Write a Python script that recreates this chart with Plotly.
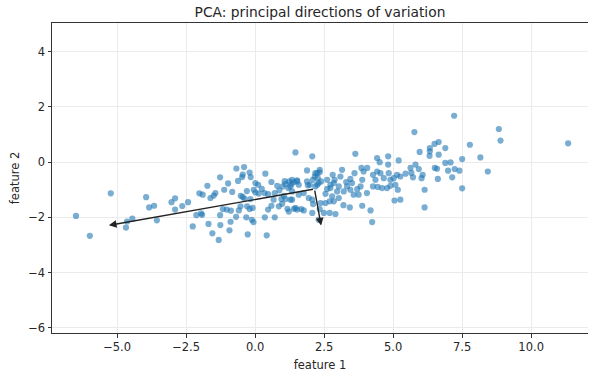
import plotly.graph_objects as go

# ---- data ----
feature1 = [
    -6.49, -5.99, -5.23, -4.64, -4.45, -4.68, -3.95, -3.84, -3.66, -3.56,
    -3.03, -2.90, -2.90, -2.64, -2.43, -2.02, -1.90, -1.73, -1.62, -1.50,
    -2.13, -1.96, -1.92, -2.26, -1.69, -1.55,
    -1.44, -1.27, -0.98, -1.12, -0.83, -0.68, -0.40, -0.45, -0.62, -0.20,
    -0.16, 0.37, 0.59, 0.11, 0.01, 0.24, 0.34, 0.47, 0.71, 0.88,
    1.00, 1.10, 1.23, 1.32, 1.07, 1.20, 1.40, 1.46, -0.52, -0.38,
    -0.29, -0.20, -0.53, -0.59, -0.88, -1.03, -1.17, -1.27, -0.89, -0.69,
    -0.32, -0.12, -0.06, 0.35, 0.71, 0.47, 0.59, 0.86, 0.98, 1.17,
    1.41, 1.10, -1.26, -1.32, -0.93, -0.27, 0.42,
    0.01, -0.05, -0.17, -0.09, 0.67, 1.28, 1.52, 0.95, 1.04, 1.22,
    1.34, 1.52, 1.67, 1.76, 2.07, 2.25, 2.27, 1.98, 2.10, 2.34,
    2.49, 2.70, 2.55,
    2.07, 3.63, 4.42, 4.82, 5.20, 4.51, 4.82, 1.88, 2.34, 2.25,
    2.16, 2.09, 1.34, 1.52, 1.58, 1.88, 1.91, 2.30, 1.34, 1.76,
    1.58, 2.61, 2.73, 2.81, 2.88, 3.09, 3.15, 2.97, 3.03, 2.85,
    2.79, 3.21, 3.33, 3.45, 3.51, 3.45, 3.57, 3.75, 3.82, 3.88,
    3.93, 4.06, 3.85, 4.27, 4.42, 4.54, 4.66, 4.84, 4.90, 5.02,
    5.14, 5.26, 4.36, 4.27, 4.44, 4.60, 4.78, 4.90, 5.08, 5.05,
    5.26, 3.43, 3.88, 4.18, 4.24, 2.91, 2.30, 1.94, 2.07, 2.37,
    2.34, 2.85, 2.73, 2.61, 3.03, 2.70,
    7.21, 5.77, 7.78, 6.33, 6.33, 6.50, 6.65, 6.89, 5.96, 6.32,
    6.65, 5.81, 5.63, 5.66, 5.45, 5.72, 5.93, 6.03, 6.07, 6.14,
    6.51, 6.59, 6.89, 7.08, 6.99, 7.23, 7.40, 7.14, 7.50, 6.62,
    7.50, 8.16, 8.43, 8.83, 8.89, 5.17, 6.14, 11.34,
    2.18, 2.39, 1.46, 1.28, 2.18, 0.13, -0.45, -0.47, 3.30, 3.70,
    4.05, 3.60, 2.55, 0.80, -0.30, 3.20,
]
feature2 = [
    -1.95, -2.67, -1.13, -2.15, -2.05, -2.37, -1.27, -1.64, -1.58, -2.11,
    -1.45, -1.31, -1.72, -1.59, -1.45, -1.13, -1.18, -0.86, -1.30, -1.21,
    -1.92, -1.86, -1.91, -2.33, -2.24, -2.58,
    -1.12, -0.55, -0.77, -1.00, -1.08, -0.23, -0.18, -0.45, -0.68, -0.38,
    -0.54, -0.42, -0.72, -0.82, -1.10, -0.97, -1.12, -1.16, -1.12, -1.02,
    -0.88, -0.79, -0.70, -0.79, -0.69, -0.94, -0.72, 0.35, -1.22, -1.33,
    -1.60, -1.70, -1.60, -1.75, -1.76, -1.72, -1.70, -1.92, -2.16, -1.98,
    -2.00, -2.09, -2.17, -2.00, -2.00, -1.72, -1.58, -1.60, -1.51, -1.69,
    -1.69, -1.34, -2.28, -2.82, -2.47, -2.62, -2.65,
    -0.76, -1.00, -1.34, -1.66, -1.36, -0.88, -0.70, -1.34, -1.22, -1.79,
    -1.36, -1.72, -1.70, -1.75, -1.84, -0.82, -0.58, -0.82, -1.52, -1.70,
    -1.84, -1.84, -1.48,
    0.21, 0.30, 0.15, 0.21, 0.06, 0.00, -0.09, -0.30, -0.28, -0.40,
    -0.52, -0.64, -0.64, -0.66, -0.82, -0.70, -0.84, -0.76, -1.06, -1.12,
    -1.18, -0.97, -0.82, -0.46, -0.64, -0.52, -0.28, -1.06, -1.30, -1.42,
    -1.24, -1.06, -0.88, -1.00, -0.76, -0.61, -1.18, -1.18, -0.88, -0.64,
    -0.34, -0.21, -0.21, -0.46, -0.34, -0.40, -0.58, -0.40, -0.64, -0.58,
    -0.46, -0.52, -0.64, -0.88, -0.90, -0.94, -0.94, -0.86, -0.82, -1.39,
    -1.36, -1.64, -1.58, -1.75, -2.17, -1.88, -2.09, -1.30, -1.36, -1.48,
    -0.37, -0.76, -0.94, -0.64, -0.88, -1.42,
    1.68, 1.09, 0.63, 0.51, 0.39, 0.66, 0.73, 0.51, 0.37, 0.23,
    0.27, -0.09, -0.21, -0.39, -0.42, -0.55, -0.25, -0.58, -0.46, -1.00,
    -0.21, -0.24, -0.03, -0.01, -0.31, -0.25, -0.31, -0.55, 0.11, -0.61,
    -0.95, 0.17, -0.34, 1.20, 0.78, -1.00, -1.64, 0.68,
    -0.88, -0.70, -1.66, -1.36, -0.40, -1.14, -1.26, -0.54, -0.72, -0.98,
    -1.12, -0.40, -1.15, -0.86, -1.05, -1.56,
]

mean_point = [2.15, -0.975]
component_1 = [-7.45, -1.315]
component_2 = [0.24, -1.325]

x_ticks = [-5.0, -2.5, 0.0, 2.5, 5.0, 7.5, 10.0]
y_ticks = [-6, -4, -2, 0, 2, 4]

FONT = "DejaVu Sans"
TXT = "#262626"

fig = go.Figure()
fig.add_trace(go.Scatter(
    x=feature1, y=feature2, mode="markers",
    marker=dict(size=6.2, color="rgba(31,119,180,0.6)", line=dict(width=0)),
    showlegend=False, hoverinfo="skip",
))

for comp in (component_1, component_2):
    fig.add_annotation(
        x=mean_point[0] + comp[0], y=mean_point[1] + comp[1],
        ax=mean_point[0], ay=mean_point[1],
        xref="x", yref="y", axref="x", ayref="y",
        text="", showarrow=True, arrowhead=2, arrowsize=1.1,
        arrowwidth=1.4, arrowcolor="#222222", standoff=0,
    )

axis_common = dict(
    showline=True, linecolor="#333333", linewidth=1,
    ticks="outside", ticklen=3.5, tickwidth=0.8, tickcolor="#333333",
    showgrid=True, gridcolor="#ebebeb", gridwidth=0.8,
    zeroline=False, tickfont=dict(family=FONT, size=11.5, color=TXT),
)

fig.update_layout(
    width=590, height=372,
    margin=dict(l=52, r=2, t=23, b=39),
    paper_bgcolor="white", plot_bgcolor="white",
    font=dict(family=FONT, size=11.5, color=TXT),
    title=dict(text="PCA: principal directions of variation",
               x=0.5, xref="paper", xanchor="center",
               y=1 - 12 / 372, yref="container", yanchor="middle",
               font=dict(family=FONT, size=13.8, color=TXT)),
    xaxis=dict(range=[-7.36, 12.06], tickvals=x_ticks,
               ticktext=[f"{v:.1f}".replace("-", "\u2212") for v in x_ticks],
               mirror=True,
               title=dict(text="feature 1", standoff=9,
                          font=dict(family=FONT, size=11.5, color=TXT)),
               **axis_common),
    yaxis=dict(range=[-6.19, 5.04], tickvals=y_ticks,
               ticktext=[f"{v}".replace("-", "\u2212") for v in y_ticks],
               title=dict(text="feature 2", standoff=6,
                          font=dict(family=FONT, size=11.5, color=TXT)),
               **axis_common),
)

fig.write_html("out.html")
